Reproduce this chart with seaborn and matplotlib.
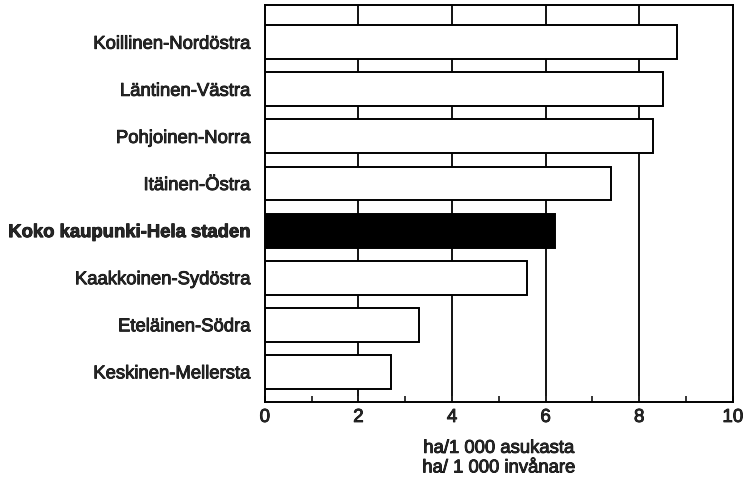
import pandas as pd
import numpy as np
import matplotlib
matplotlib.use('Agg')
import matplotlib.pyplot as plt
import matplotlib.patheffects as pe
import seaborn as sns
from matplotlib.ticker import MultipleLocator

# 数据
alueet = ['Koillinen-Nordöstra', 'Läntinen-Västra', 'Pohjoinen-Norra', 'Itäinen-Östra',
          'Koko kaupunki-Hela staden', 'Kaakkoinen-Sydöstra', 'Eteläinen-Södra', 'Keskinen-Mellersta']
arvot = [8.8, 8.5, 8.3, 7.4, 6.2, 5.6, 3.3, 2.7]
kokonais = 'Koko kaupunki-Hela staden'

df = pd.DataFrame({'alue': alueet, 'arvo': arvot})
varit = ['black' if a == kokonais else 'white' for a in alueet]

sns.set_style('white')
plt.rcParams['font.family'] = ['Liberation Sans', 'DejaVu Sans']

fig = plt.figure(figsize=(7.44, 4.8), dpi=100)
ax = fig.add_axes([0.356, 0.1625, 0.629, 0.827])

# 网格线
for x in [2, 4, 6, 8]:
    ax.axvline(x, color='black', lw=1.3, zorder=0)

sns.barplot(data=df, x='arvo', y='alue', hue='alue', palette=varit, legend=False,
            orient='h', width=0.72, edgecolor='black', linewidth=1.4, ax=ax, zorder=2)

ax.set_xlim(0, 10)
ax.set_ylim(7.64, -0.79)
ax.xaxis.set_major_locator(MultipleLocator(2))
ax.xaxis.set_minor_locator(MultipleLocator(1))
ax.tick_params(axis='x', which='both', direction='in', bottom=True, length=4, width=1.3,
               labelsize=13.5, pad=5)
ax.tick_params(axis='y', left=False, labelsize=13.3, pad=7)
ax.set_xlabel('ha/1 000 asukasta\nha/ 1 000 invånare', fontsize=13.3, labelpad=10,
              linespacing=1.2)
ax.set_ylabel('')

for s in ax.spines.values():
    s.set_color('black')
    s.set_linewidth(1.4)

# 扫描效果：文字稍粗
paksu = [pe.withStroke(linewidth=0.6, foreground='black')]
for lbl in ax.get_yticklabels() + ax.get_xticklabels() + [ax.xaxis.label]:
    lbl.set_path_effects(paksu)
for lbl in ax.get_yticklabels():
    if lbl.get_text() == kokonais:
        lbl.set_fontweight('bold')

fig.savefig('out.png', dpi=100)
